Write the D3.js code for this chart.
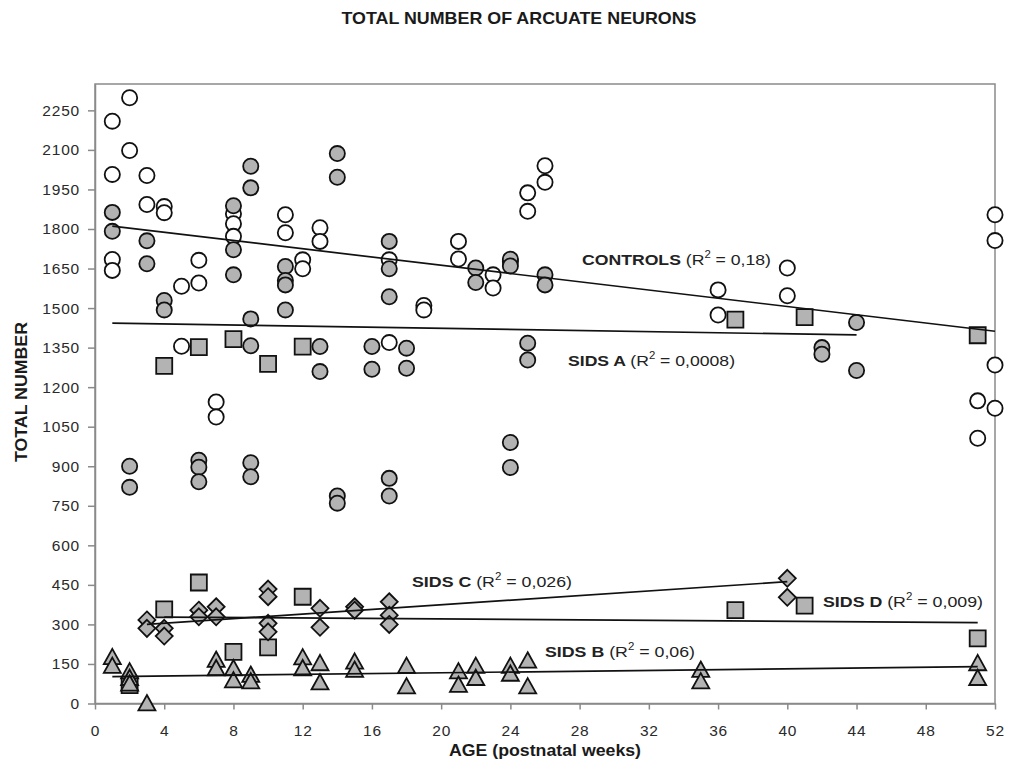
<!DOCTYPE html>
<html>
<head>
<meta charset="utf-8">
<script src="https://cdn.jsdelivr.net/npm/d3@7"></script>
<style>
  body { margin: 0; background: #fff; }
  svg { display: block; font-family: Arial, "Liberation Sans", sans-serif; }
</style>
</head>
<body>
<svg id="chart" width="1018" height="771"></svg>
<script>
// data: [week, total number]
const controls = [
  [1, 2209], [1, 2007], [1, 1684], [1, 1643],
  [2, 2298], [2, 2098],
  [3, 2003], [3, 1893],
  [4, 1885], [4, 1862],
  [5, 1583], [5, 1355],
  [6, 1681], [6, 1595],
  [7, 1144], [7, 1087],
  [8, 1858], [8, 1820], [8, 1772],
  [11, 1854], [11, 1786],
  [12, 1683], [12, 1649],
  [13, 1805], [13, 1753],
  [17, 1683], [17, 1369],
  [19, 1510], [19, 1493],
  [21, 1753], [21, 1686],
  [23, 1626], [23, 1576],
  [24, 1678],
  [25, 1937], [25, 1867],
  [26, 2040], [26, 1977],
  [36, 1569], [36, 1474],
  [40, 1652], [40, 1547],
  [51, 1148], [51, 1006],
  [52, 1854], [52, 1756], [52, 1284], [52, 1120]
];
const sidsA = [
  [1, 1863], [1, 1791],
  [2, 900], [2, 820],
  [3, 1755], [3, 1668],
  [4, 1529], [4, 1493],
  [6, 923], [6, 896], [6, 841],
  [8, 1888], [8, 1721], [8, 1626],
  [9, 2038], [9, 1956], [9, 1459], [9, 1357], [9, 913], [9, 860],
  [11, 1658], [11, 1605], [11, 1588], [11, 1493],
  [13, 1354], [13, 1259],
  [14, 2086], [14, 1996], [14, 787], [14, 760],
  [16, 1354], [16, 1268],
  [17, 1753], [17, 1649], [17, 1543], [17, 854], [17, 787],
  [18, 1348], [18, 1272],
  [22, 1652], [22, 1597],
  [24, 1685], [24, 1660], [24, 990], [24, 895],
  [25, 1367], [25, 1303],
  [26, 1626], [26, 1588],
  [42, 1350], [42, 1325],
  [44, 1445], [44, 1263]
];
const sidsD = [
  [2, 70],
  [4, 1281], [4, 357],
  [6, 1352], [6, 459],
  [8, 1382], [8, 196],
  [10, 1288], [10, 213],
  [12, 1354], [12, 405],
  [37, 1456], [37, 354],
  [41, 1466], [41, 371],
  [51, 1397], [51, 247]
];
const sidsC = [
  [3, 317], [3, 285],
  [4, 285], [4, 256],
  [6, 354], [6, 329],
  [7, 367], [7, 329],
  [10, 434], [10, 405], [10, 304], [10, 272],
  [13, 361], [13, 289],
  [15, 367], [15, 354],
  [17, 386], [17, 335], [17, 300],
  [40, 475], [40, 403]
];
const sidsB = [
  [1, 175], [1, 142],
  [2, 121], [2, 96], [2, 75],
  [3, 0],
  [7, 165], [7, 133],
  [8, 133], [8, 87],
  [9, 108], [9, 83],
  [12, 174], [12, 133],
  [13, 152], [13, 79],
  [15, 158], [15, 127],
  [18, 142], [18, 64],
  [21, 121], [21, 70],
  [22, 142], [22, 96],
  [24, 142], [24, 112],
  [25, 162], [25, 64],
  [35, 127], [35, 83],
  [51, 152], [51, 96]
];

// trend lines (end points as drawn)
const controlsTrend = [[1, 1811], [52, 1412]];
const sidsATrend = [[1, 1443], [44, 1398]];
const sidsBTrend = [[1, 102], [51, 140]];
const sidsCTrend = [[3, 300], [40, 462]];
const sidsDTrend = [[4, 328], [51, 307]];

const xTicks = d3.range(0, 53, 4);
const yTicks = d3.range(0, 2251, 150);

const labels = [
  { name: 'CONTROLS', r2: '0,18', x: 582, y: 265, len: 189 },
  { name: 'SIDS A', r2: '0,0008', x: 568, y: 366, len: 167 },
  { name: 'SIDS C', r2: '0,026', x: 412, y: 587, len: 160 },
  { name: 'SIDS D', r2: '0,009', x: 823, y: 607, len: 160 },
  { name: 'SIDS B', r2: '0,06', x: 545, y: 657, len: 150 }
];

const svg = d3.select('#chart');
const plotL = 95, plotR = 995, plotT = 84, plotB = 703.5;

const x = d3.scaleLinear().domain([0, 52]).range([plotL, plotR]);
const y = d3.scaleLinear().domain([0, 2350]).range([plotB, plotT]);

const axisGray = '#8a8a8a';
const fillGray = '#b3b3b3';

// frame
svg.append('rect')
  .attr('x', plotL).attr('y', plotT)
  .attr('width', plotR - plotL).attr('height', plotB - plotT)
  .attr('fill', 'none').attr('stroke', axisGray).attr('stroke-width', 1.5);

// axes
const gx = svg.append('g').attr('transform', `translate(0,${plotB})`)
  .call(d3.axisBottom(x).tickValues(xTicks).tickSize(6).tickPadding(15).tickSizeOuter(0));
const gy = svg.append('g').attr('transform', `translate(${plotL},0)`)
  .call(d3.axisLeft(y).tickValues(yTicks).tickFormat(d3.format('d'))
    .tickSize(7).tickPadding(8).tickSizeOuter(0));

[gx, gy].forEach(g => {
  g.select('.domain').attr('stroke', axisGray).attr('stroke-width', 1.5);
  g.selectAll('.tick line').attr('stroke', axisGray).attr('stroke-width', 1.5);
  g.selectAll('.tick text')
    .attr('fill', '#2a2a2a')
    .style('font-size', '15.5px')
    .style('letter-spacing', '0.8px')
    .style('font-family', 'Arial, "Liberation Sans", sans-serif');
});

// marker shapes
const sq = 8, tri = 8.5, dia = 8.5;
function squarePath(d) {
  const cx = x(d[0]), cy = y(d[1]);
  return `M${cx - sq},${cy - sq}h${2 * sq}v${2 * sq}h${-2 * sq}Z`;
}
function trianglePath(d) {
  const cx = x(d[0]), cy = y(d[1]);
  return `M${cx},${cy - tri}L${cx + tri},${cy + tri * 0.8}L${cx - tri},${cy + tri * 0.8}Z`;
}
function diamondPath(d) {
  const cx = x(d[0]), cy = y(d[1]);
  return `M${cx},${cy - dia}L${cx + dia},${cy}L${cx},${cy + dia}L${cx - dia},${cy}Z`;
}

const marks = svg.append('g').attr('stroke', '#111').attr('stroke-width', 1.8);

marks.selectAll('.ctrl').data(controls).enter().append('circle')
  .attr('cx', d => x(d[0])).attr('cy', d => y(d[1])).attr('r', 7.6)
  .attr('fill', '#fff');

marks.selectAll('.sa').data(sidsA).enter().append('circle')
  .attr('cx', d => x(d[0])).attr('cy', d => y(d[1])).attr('r', 7.6)
  .attr('fill', fillGray);

marks.selectAll('.sd').data(sidsD).enter().append('path')
  .attr('d', squarePath).attr('fill', fillGray);

marks.selectAll('.sc').data(sidsC).enter().append('path')
  .attr('d', diamondPath).attr('fill', fillGray);

marks.selectAll('.sb').data(sidsB).enter().append('path')
  .attr('d', trianglePath).attr('fill', fillGray);

// trend lines
const line = d3.line().x(d => x(d[0])).y(d => y(d[1]));
[controlsTrend, sidsATrend, sidsBTrend, sidsCTrend, sidsDTrend].forEach(t => {
  svg.append('path').datum(t)
    .attr('d', line)
    .attr('fill', 'none')
    .attr('stroke', '#111')
    .attr('stroke-width', 1.7);
});

// series labels
labels.forEach(l => {
  const t = svg.append('text')
    .attr('x', l.x).attr('y', l.y)
    .attr('fill', '#222')
    .style('font-size', '15.5px')
    .attr('textLength', l.len)
    .attr('lengthAdjust', 'spacingAndGlyphs');
  t.append('tspan').attr('font-weight', 'bold').text(l.name + ' ');
  t.append('tspan').text('(R');
  t.append('tspan').attr('dy', -7).style('font-size', '10px').text('2');
  t.append('tspan').attr('dy', 7).text(' = ' + l.r2 + ')');
});

// title and axis titles
svg.append('text')
  .attr('x', 519).attr('y', 24)
  .attr('text-anchor', 'middle')
  .attr('font-weight', 'bold')
  .attr('fill', '#1a1a1a')
  .style('font-size', '16.5px')
  .attr('textLength', 355).attr('lengthAdjust', 'spacingAndGlyphs')
  .text('TOTAL NUMBER OF ARCUATE NEURONS');

svg.append('text')
  .attr('x', 545).attr('y', 756)
  .attr('text-anchor', 'middle')
  .attr('font-weight', 'bold')
  .attr('fill', '#1a1a1a')
  .style('font-size', '16px')
  .attr('textLength', 192).attr('lengthAdjust', 'spacingAndGlyphs')
  .text('AGE (postnatal weeks)');

svg.append('text')
  .attr('transform', 'translate(27,392) rotate(-90)')
  .attr('text-anchor', 'middle')
  .attr('font-weight', 'bold')
  .attr('fill', '#1a1a1a')
  .style('font-size', '16px')
  .attr('textLength', 140).attr('lengthAdjust', 'spacingAndGlyphs')
  .text('TOTAL NUMBER');
</script>
</body>
</html>
